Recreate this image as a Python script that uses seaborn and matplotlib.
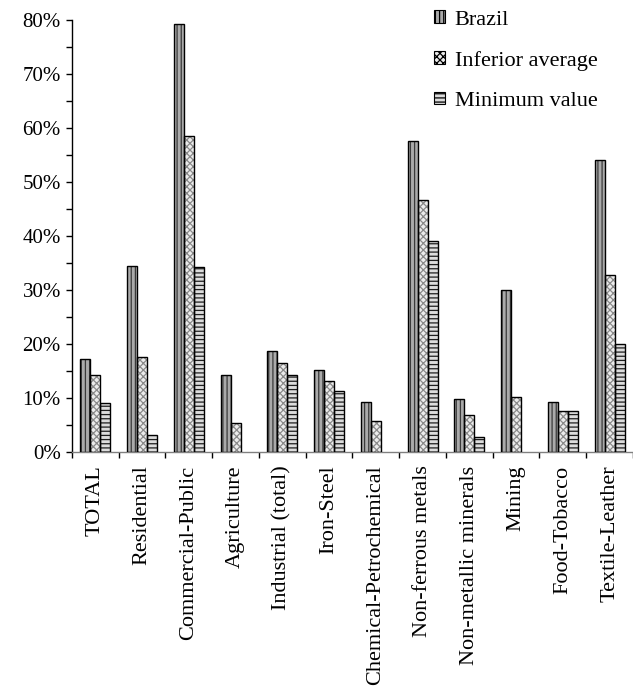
import numpy as np
import pandas as pd
import matplotlib
matplotlib.use("Agg")
import matplotlib.pyplot as plt
from matplotlib.patches import Rectangle
from matplotlib.ticker import MultipleLocator, FixedLocator, PercentFormatter
import seaborn as sns

# Energy-efficiency potential by sector (%)
sectors = ["TOTAL", "Residential", "Commercial-Public", "Agriculture",
           "Industrial (total)", "Iron-Steel", "Chemical-Petrochemical",
           "Non-ferrous metals", "Non-metallic minerals", "Mining",
           "Food-Tobacco", "Textile-Leather"]
series = ["Brazil", "Inferior average", "Minimum value"]
brazil = [17.1, 34.5, 79.3, 14.2, 18.7, 15.1, 9.2, 57.6, 9.8, 30.0, 9.2, 54.1]
inferior_avg = [14.2, 17.5, 58.5, 5.3, 16.4, 13.1, 5.7, 46.6, 6.8, 10.1, 7.5, 32.7]
minimum_val = [9.0, 3.1, 34.2, np.nan, 14.2, 11.2, np.nan, 39.0, 2.7, np.nan, 7.5, 20.0]
y_ticks = [0, 10, 20, 30, 40, 50, 60, 70, 80]

df = pd.DataFrame({
    "sector": sectors * 3,
    "series": [s for s in series for _ in sectors],
    "value": brazil + inferior_avg + minimum_val,
})

sns.set_theme(style="white")
plt.rcParams["font.family"] = ["Liberation Serif", "DejaVu Serif"]
plt.rcParams["hatch.linewidth"] = 0.9
for key in ["text.color", "xtick.color", "ytick.color", "axes.labelcolor"]:
    plt.rcParams[key] = "black"

fig = plt.figure(figsize=(6.33, 6.93), dpi=100)
ax = fig.add_axes([0.1137, 0.3482, 0.8863, 0.6229])

sns.barplot(data=df, x="sector", y="value", hue="series", order=sectors,
            hue_order=series, width=0.64, gap=0, errorbar=None, ax=ax,
            saturation=1)

styles = {
    "Brazil": dict(fc="#aaaaaa", hatch="||||", hc="#3a3a3a"),
    "Inferior average": dict(fc="#ececec", hatch="xxxxx", hc="#8a8a8a"),
    "Minimum value": dict(fc="#dcdcdc", hatch="----", hc="#1e1e1e"),
}

for container, name in zip(ax.containers, series):
    st = styles[name]
    for p in container.patches:
        p.set_facecolor(st["fc"])
        p.set_hatch(st["hatch"])
        p.set_edgecolor(st["hc"])
        p.set_linewidth(0)
        if np.isfinite(p.get_height()) and p.get_height() > 0:
            ax.add_patch(Rectangle(p.get_xy(), p.get_width(), p.get_height(),
                                   fill=False, ec="black", lw=1.0, zorder=3))

ax.set_xlim(-0.5, len(sectors) - 0.5)
ax.set_ylim(0, 80)
ax.set_xlabel("")
ax.set_ylabel("")

ax.yaxis.set_major_locator(FixedLocator(y_ticks))
ax.yaxis.set_minor_locator(MultipleLocator(5))
ax.yaxis.set_major_formatter(PercentFormatter(decimals=0))
ax.xaxis.set_minor_locator(FixedLocator(np.arange(-0.5, len(sectors), 1.0)))

ax.tick_params(axis="y", which="both", direction="out", length=4, width=1,
               color="black", left=True, labelsize=15, pad=4)
ax.tick_params(axis="x", which="major", length=0, labelsize=16, pad=10,
               labelrotation=90)
ax.tick_params(axis="x", which="minor", direction="out", length=4, width=1,
               color="black", bottom=True)

for side in ["top", "right"]:
    ax.spines[side].set_visible(False)
ax.spines["left"].set_color("black")
ax.spines["left"].set_linewidth(1)
ax.spines["bottom"].set_color("#808080")
ax.spines["bottom"].set_linewidth(1)

handles = []
for name in series:
    st = styles[name]
    handles.append(Rectangle((0, 0), 1, 1, fc=st["fc"], hatch=st["hatch"],
                             ec="black", lw=0.8))
ax.legend(handles, series, loc="upper left",
          bbox_to_anchor=(0.685, 0.985), bbox_transform=fig.transFigure,
          frameon=False, fontsize=16, handlelength=0.5, handleheight=0.5,
          handletextpad=0.45, labelspacing=0.95, borderpad=0, borderaxespad=0)

fig.savefig("out.png", dpi=100)
